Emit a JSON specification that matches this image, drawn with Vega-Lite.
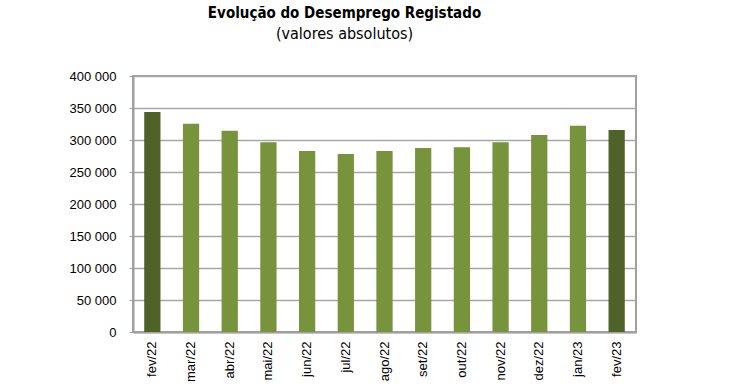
{
  "$schema": "https://vega.github.io/schema/vega-lite/v6.json",
  "width": 503,
  "height": 256,
  "padding": {"left": 63, "top": 6, "right": 5, "bottom": 5},
  "background": "white",
  "title": {
    "text": "Evolução do Desemprego Registado",
    "subtitle": "(valores absolutos)",
    "font": "DejaVu Sans Condensed, Roboto, sans-serif",
    "fontSize": 15,
    "fontWeight": "bold",
    "color": "#000000",
    "subtitleFont": "DejaVu Sans Condensed, Roboto, sans-serif",
    "subtitleFontSize": 16,
    "subtitleColor": "#000000",
    "subtitlePadding": 5,
    "anchor": "middle",
    "dx": -40,
    "offset": 28
  },
  "config": {
    "locale": {"number": {"decimal": ",", "thousands": " ", "grouping": [3], "currency": ["", " €"]}},
    "view": {"stroke": "#a0a0a0", "strokeWidth": 2}
  },
  "data": {
    "values": [
      {"mes": "fev/22", "desempregados": 343700},
      {"mes": "mar/22", "desempregados": 325500},
      {"mes": "abr/22", "desempregados": 314500},
      {"mes": "mai/22", "desempregados": 296400},
      {"mes": "jun/22", "desempregados": 282800},
      {"mes": "jul/22", "desempregados": 278000},
      {"mes": "ago/22", "desempregados": 282800},
      {"mes": "set/22", "desempregados": 287500},
      {"mes": "out/22", "desempregados": 288500},
      {"mes": "nov/22", "desempregados": 296400},
      {"mes": "dez/22", "desempregados": 307800},
      {"mes": "jan/23", "desempregados": 322400},
      {"mes": "fev/23", "desempregados": 315600}
    ]
  },
  "mark": {"type": "bar", "width": {"band": 0.42}},
  "encoding": {
    "x": {
      "field": "mes",
      "type": "nominal",
      "sort": null,
      "scale": {"paddingInner": 0, "paddingOuter": 0},
      "axis": {
        "title": null,
        "labelAngle": -90,
        "labelFont": "Liberation Sans",
        "labelFontSize": 13,
        "labelColor": "#000000",
        "labelPadding": 9,
        "ticks": false,
        "domainColor": "#a0a0a0",
        "domainWidth": 2
      }
    },
    "y": {
      "field": "desempregados",
      "type": "quantitative",
      "scale": {"domain": [0, 400000], "nice": false},
      "axis": {
        "title": null,
        "values": [0, 50000, 100000, 150000, 200000, 250000, 300000, 350000, 400000],
        "format": ",d",
        "labelFont": "Liberation Sans",
        "labelFontSize": 13,
        "labelColor": "#000000",
        "tickSize": 4,
        "tickColor": "#a0a0a0",
        "labelPadding": 13,
        "domainColor": "#a0a0a0",
        "domainWidth": 2,
        "gridColor": "#a6a6a6",
        "gridWidth": 1.5,
        "minExtent": 70,
        "maxExtent": 70
      }
    },
    "color": {
      "condition": {"test": "indexof(['fev/22','fev/23'], datum.mes) >= 0", "value": "#4f6228"},
      "value": "#77933c"
    }
  }
}
